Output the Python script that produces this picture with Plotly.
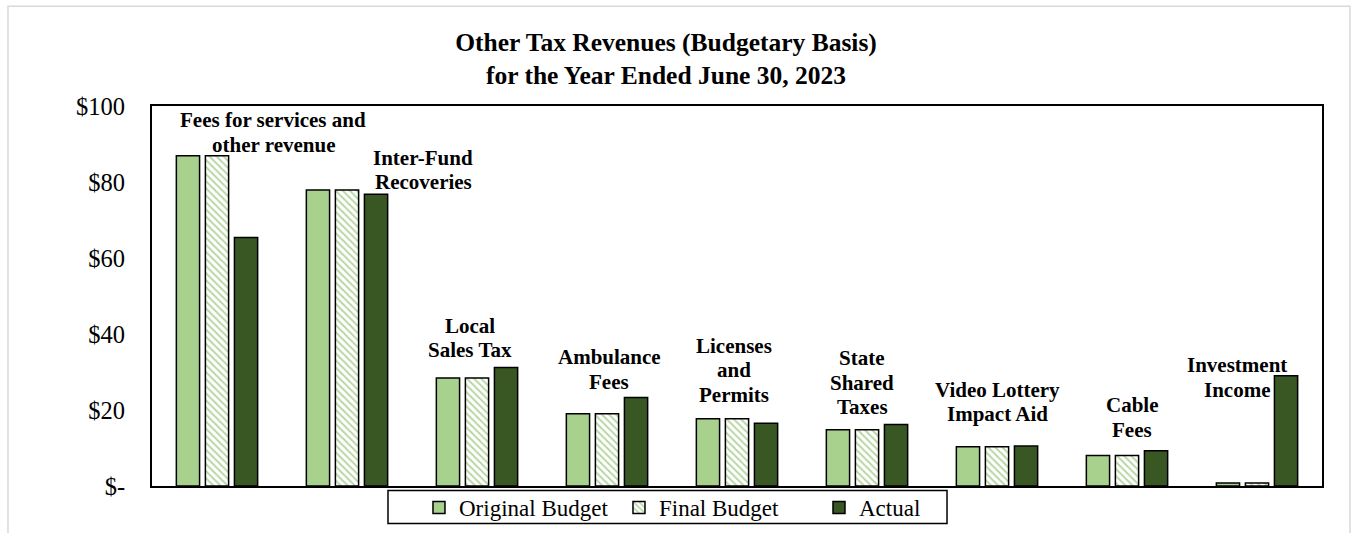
import plotly.graph_objects as go

# Revenue categories and budget/actual amounts (millions of dollars)
categories = [
    "Fees for services and other revenue",
    "Inter-Fund Recoveries",
    "Local Sales Tax",
    "Ambulance Fees",
    "Licenses and Permits",
    "State Shared Taxes",
    "Video Lottery Impact Aid",
    "Cable Fees",
    "Investment Income",
]
original_budget = [86.9, 77.9, 28.4, 19.0, 17.7, 14.8, 10.3, 8.0, 0.8]
final_budget = [86.9, 77.9, 28.4, 19.0, 17.7, 14.8, 10.3, 8.0, 0.8]
actual = [65.4, 76.8, 31.2, 23.3, 16.5, 16.2, 10.5, 9.3, 29.0]

# Category captions drawn above each group, one entry per text line
label_lines = [
    ["Fees for services and", "other revenue"],
    ["Inter-Fund", "Recoveries"],
    ["Local", "Sales Tax"],
    ["Ambulance", "Fees"],
    ["Licenses", "and", "Permits"],
    ["State", "Shared", "Taxes"],
    ["Video Lottery", "Impact Aid"],
    ["Cable", "Fees"],
    ["Investment", "Income"],
]
label_y = [93.0, 83.2, 39.0, 30.6, 30.4, 27.2, 22.1, 18.0, 28.5]
label_shift = [56, 76, -7, 2, -3, -5, 0, 5, -20]
LINE_PITCH = 24.5

tick_vals = [0, 20, 40, 60, 80, 100]
tick_text = ["$-", "$20", "$40", "$60", "$80", "$100"]

LIGHT = "#A9D18E"
DARK = "#385723"
HATCH = "#70AD47"
SERIF = "Liberation Serif"

fig = go.Figure()
fig.add_trace(go.Bar(
    name="Original Budget", x=categories, y=original_budget,
    marker=dict(color=LIGHT, line=dict(color="black", width=1.5)),
))
fig.add_trace(go.Bar(
    name="Final Budget", x=categories, y=final_budget,
    marker=dict(color="white", line=dict(color="black", width=1.5),
                pattern=dict(shape="\\", fgcolor=HATCH, bgcolor="white",
                             size=5, solidity=0.4)),
))
fig.add_trace(go.Bar(
    name="Actual", x=categories, y=actual,
    marker=dict(color=DARK, line=dict(color="black", width=1.5)),
))

for cat, lines, yv, sh in zip(categories, label_lines, label_y, label_shift):
    n = len(lines)
    for i, line in enumerate(lines):
        fig.add_annotation(
            x=cat, y=yv, xref="x", yref="y", text=line, showarrow=False,
            xshift=sh, yshift=((n - 1) / 2 - i) * LINE_PITCH,
            yanchor="middle", align="center",
            font=dict(family=SERIF, size=21, color="black", weight="bold"),
        )

# light outer frame of the chart object
fig.add_shape(
    type="rect", xref="paper", yref="paper",
    x0=-0.1231, x1=1.0239, y0=-0.2, y1=1.2628,
    line=dict(color="#D9D9D9", width=1.5), fillcolor="rgba(0,0,0,0)", layer="below",
)
# legend frame
fig.add_shape(
    type="rect", xref="paper", yref="paper",
    x0=0.2017, x1=0.6795, y0=-0.0986, y1=-0.0118,
    line=dict(color="black", width=1.5), fillcolor="white", layer="above",
)

fig.update_layout(
    width=1353, height=533,
    font=dict(family=SERIF, color="black"),
    margin=dict(l=152, r=31, t=106, b=46.5, autoexpand=False),
    paper_bgcolor="white", plot_bgcolor="white",
    barmode="group", bargap=0.33, bargroupgap=0.2,
    title=dict(
        text="Other Tax Revenues (Budgetary Basis)<br>for the Year Ended June 30, 2023",
        x=666 / 1353, xanchor="center", y=1 - 50.5 / 533, yanchor="middle",
        font=dict(family=SERIF, size=25.5, color="black", weight="bold"),
    ),
    xaxis=dict(
        showticklabels=False, ticks="", showgrid=False, zeroline=False,
        showline=True, linecolor="black", linewidth=2, mirror=True,
    ),
    yaxis=dict(
        range=[0, 100], tickvals=tick_vals, ticktext=tick_text,
        showgrid=False, zeroline=False, ticks="",
        showline=True, linecolor="black", linewidth=2, mirror=True,
        tickfont=dict(family=SERIF, size=24.5, color="black"),
        ticklabelstandoff=20,
    ),
    legend=dict(
        orientation="h", x=0.4846, xanchor="center", y=-0.0565, yanchor="middle",
        borderwidth=0, bgcolor="rgba(0,0,0,0)",
        font=dict(family=SERIF, size=23, color="black"),
        itemwidth=30, tracegroupgap=0, entrywidth=155,
    ),
    showlegend=True,
)

fig.write_html("out.html")
